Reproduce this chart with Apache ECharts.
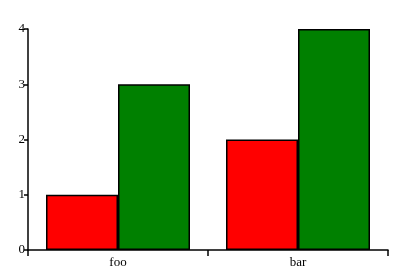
<!DOCTYPE html>
<html><head><meta charset="utf-8">
<script src="https://cdn.jsdelivr.net/npm/echarts@6/dist/echarts.min.js"></script>
<style>html,body{margin:0;padding:0;background:#fff}#c{width:417px;height:278px}</style>
</head><body><div id="c"></div>
<script>
const categories = ['foo', 'bar'];
const redValues = [1, 2];
const greenValues = [3, 4];
const yTicks = [0, 1, 2, 3, 4];

const chart = echarts.init(document.getElementById('c'), null, {renderer: 'canvas'});
const font = '"Liberation Serif", "DejaVu Serif", serif';
chart.setOption({
  animation: false,
  backgroundColor: '#fff',
  grid: {left: 28, right: 29, top: 29, bottom: 28},
  xAxis: {
    type: 'category', data: categories,
    axisLine: {lineStyle: {color: '#000', width: 1.5}},
    axisTick: {show: true, length: 6, lineStyle: {color: '#000', width: 1.5}},
    axisLabel: {color: '#000', fontFamily: font, fontSize: 13, margin: 6},
    splitLine: {show: false}
  },
  yAxis: {
    type: 'value', min: yTicks[0], max: yTicks[yTicks.length - 1], interval: 1,
    axisLine: {show: true, lineStyle: {color: '#000', width: 1.5}},
    axisTick: {show: true, length: 4, lineStyle: {color: '#000', width: 1.5}},
    axisLabel: {color: '#000', fontFamily: font, fontSize: 13, margin: 3},
    splitLine: {show: false}
  },
  series: [
    {type: 'bar', data: redValues, barWidth: 72, barGap: '0%',
     itemStyle: {color: '#ff0000', borderColor: '#000', borderWidth: 1.5}},
    {type: 'bar', data: greenValues, barWidth: 72, barGap: '0%',
     itemStyle: {color: '#008000', borderColor: '#000', borderWidth: 1.5}}
  ]
});
</script></body></html>
